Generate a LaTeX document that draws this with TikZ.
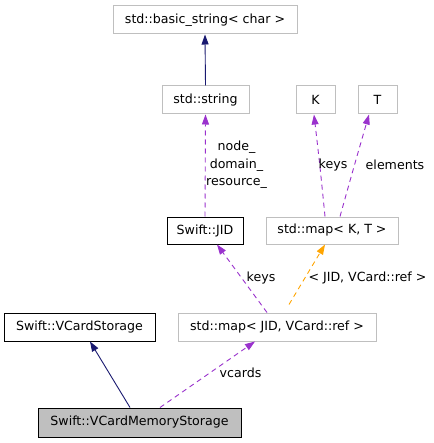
\documentclass[tikz,border=0pt]{standalone}
\usepackage{fontspec}
\setmainfont{DejaVu Sans}
\usetikzlibrary{arrows.meta}
\definecolor{boxgray}{HTML}{BFBFBF}
\definecolor{navy}{HTML}{191970}
\definecolor{purp}{HTML}{9A32CD}
\definecolor{orng}{HTML}{FFA500}
\begin{document}
\begin{tikzpicture}[x=1pt,y=1pt,
  every node/.style={font=\fontsize{12.6}{17.5}\selectfont, inner sep=0pt},
  cls/.style={draw=boxgray, line width=1pt, minimum height=28pt, fill=white},
  clsb/.style={draw=black, line width=1pt, minimum height=28pt, fill=white},
  cur/.style={draw=black, line width=1pt, minimum height=28pt, fill=boxgray},
  inh/.style={draw=navy, line width=0.9pt, -{Triangle[length=10pt,width=7pt]}},
  use/.style={draw=purp, line width=0.9pt, dash pattern=on 5pt off 4pt, -{Triangle[length=10pt,width=7pt]}},
  tmpl/.style={draw=orng, line width=0.9pt, dash pattern=on 5pt off 4pt, -{Triangle[length=10pt,width=7pt]}},
  lbl/.style={align=center}
]
\useasboundingbox (0,0) rectangle (433,-443);
\fill[white] (0,0) rectangle (433,-443);

\node[cls, minimum width=184pt] (bs) at (205,-20) {std::basic\_string< char >};
\node[cls, minimum width=87pt] (str) at (205.5,-100) {std::string};
\node[cls, minimum width=39pt] (K) at (315.5,-100) {K};
\node[cls, minimum width=39pt] (T) at (377.5,-100) {T};
\node[clsb, minimum width=76pt, minimum height=27pt] (jid) at (205,-230.5) {Swift::JID};
\node[cls, minimum width=132pt, minimum height=27pt] (mapKT) at (332,-230.5) {std::map< K, T >};
\node[clsb, minimum width=151pt] (vcs) at (79.5,-327) {Swift::VCardStorage};
\node[cls, minimum width=198pt] (mapJID) at (277,-327) {std::map< JID, VCard::ref >};
\node[cur, minimum width=203pt, minimum height=29pt] (vcms) at (139.5,-422.5) {Swift::VCardMemoryStorage};

\draw[inh] (str.north) -- (bs.south);
\draw[use] (jid.north) -- (str.south);
\draw[use] ([xshift=-7pt]mapKT.north) .. controls ([xshift=-12pt,yshift=50pt]mapKT.north) .. ([xshift=-1.5pt]K.south);
\draw[use] ([xshift=8pt]mapKT.north) .. controls ([xshift=22pt,yshift=50pt]mapKT.north) .. ([xshift=-8.5pt]T.south);
\draw[use] ([xshift=-10pt]mapJID.north) -- ([xshift=12pt]jid.south);
\draw[tmpl] ([xshift=12pt,yshift=8pt]mapJID.north) -- ([xshift=-7pt]mapKT.south);
\draw[inh] ([xshift=-9.5pt]vcms.north) -- ([xshift=10.5pt]vcs.south);
\draw[use] ([xshift=20.5pt]vcms.north) -- ([xshift=-22pt]mapJID.south);

\node[lbl] (l1) at (236.5,-165) {node\_\\domain\_\\resource\_};
\node[lbl] (l2) at (333,-165) {keys};
\node[lbl] (l3) at (395,-165) {elements};
\node[lbl] (l4) at (261,-278) {keys};
\node[lbl] (l5) at (367.5,-278) {< JID, VCard::ref >};
\node[lbl] (l6) at (240.5,-373) {vcards};
\end{tikzpicture}
\end{document}
